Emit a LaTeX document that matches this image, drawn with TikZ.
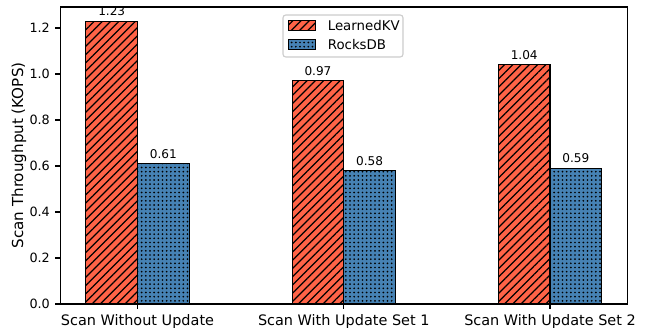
\documentclass[tikz,border=0pt]{standalone}
\usepackage{fontspec}
\setmainfont{DejaVu Sans}
\usepackage{tikz}
\usetikzlibrary{positioning,patterns.meta}
\definecolor{learnedkv}{RGB}{255,99,71}
\definecolor{rocksdb}{RGB}{70,130,180}
\tikzset{
    lkvbar/.style={
      draw=black, line width=0.8pt,
      fill=learnedkv,
      postaction={pattern={Lines[angle=45,distance=4.2pt,line width=0.9pt]}, pattern color=black}},
    rdbbar/.style={
      draw=black, line width=0.8pt,
      fill=rocksdb,
      postaction={pattern={Dots[radius=0.7pt,distance=3pt]}, pattern color=black}},
    axisline/.style={draw=black, line width=0.8pt},
    ticklabel/.style={inner sep=0pt, font=\fontsize{9.2}{10}\selectfont},
    grouplabel/.style={inner sep=0pt, font=\fontsize{10.4}{12}\selectfont},
    barvalue/.style={inner sep=0pt, anchor=base, font=\fontsize{8.7}{10}\selectfont},
    axistitle/.style={inner sep=0pt, rotate=90, font=\fontsize{10.9}{12}\selectfont},
    legendframe/.style={draw=black!20, fill=white, rounded corners=2pt, line width=0.8pt},
    legendkey/.style={minimum width=20pt, minimum height=6.8pt, inner sep=0pt},
    legendtext/.style={inner sep=0pt, font=\fontsize{9.6}{12}\selectfont},
}

\begin{document}
\begin{tikzpicture}[x=0.72pt,y=0.72pt]
    \useasboundingbox (0,0) rectangle (652,330);
    % data area: one unit = one group on x, one KOPS on y
    \begin{scope}[shift={(137.5,26)}, x=148.5pt, y=165.6pt]
        \draw[lkvbar] (-0.25,0) rectangle (0,1.23);
        \draw[rdbbar] (0,0) rectangle (0.25,0.61);
        \draw[lkvbar] (0.75,0) rectangle (1,0.97);
        \draw[rdbbar] (1,0) rectangle (1.25,0.58);
        \draw[lkvbar] (1.75,0) rectangle (2,1.04);
        \draw[rdbbar] (2,0) rectangle (2.25,0.59);

        \node[barvalue, yshift=4pt] (lkv1) at (-0.125,1.23) {1.23};
        \node[barvalue, yshift=4pt] (rdb1) at (0.125,0.61) {0.61};
        \node[barvalue, yshift=4pt] (lkv2) at (0.875,0.97) {0.97};
        \node[barvalue, yshift=4pt] (rdb2) at (1.125,0.58) {0.58};
        \node[barvalue, yshift=4pt] (lkv3) at (1.875,1.04) {1.04};
        \node[barvalue, yshift=4pt] (rdb3) at (2.125,0.59) {0.59};

        \draw[axisline] (-0.375,0) rectangle (2.375,1.2915);

        \draw[axisline] (0,0) -- ++(0,-3.5pt) node[grouplabel, below=3.5pt] (grp1) {Scan Without Update};
        \draw[axisline] (1,0) -- ++(0,-3.5pt) node[grouplabel, below=3.5pt] (grp2) {Scan With Update Set 1};
        \draw[axisline] (2,0) -- ++(0,-3.5pt) node[grouplabel, below=3.5pt] (grp3) {Scan With Update Set 2};

        \draw[axisline] (-0.375,0) -- ++(-3.5pt,0) node[ticklabel, left=3.5pt] (y00) {0.0};
        \draw[axisline] (-0.375,0.2) -- ++(-3.5pt,0) node[ticklabel, left=3.5pt] (y02) {0.2};
        \draw[axisline] (-0.375,0.4) -- ++(-3.5pt,0) node[ticklabel, left=3.5pt] (y04) {0.4};
        \draw[axisline] (-0.375,0.6) -- ++(-3.5pt,0) node[ticklabel, left=3.5pt] (y06) {0.6};
        \draw[axisline] (-0.375,0.8) -- ++(-3.5pt,0) node[ticklabel, left=3.5pt] (y08) {0.8};
        \draw[axisline] (-0.375,1.0) -- ++(-3.5pt,0) node[ticklabel, left=3.5pt] (y10) {1.0};
        \draw[axisline] (-0.375,1.2) -- ++(-3.5pt,0) node[ticklabel, left=3.5pt] (y12) {1.2};

        \node[axistitle] (ylab) at (-0.5745,0.6458) {Scan Throughput (KOPS)};
    \end{scope}

    % legend
    \draw[legendframe] (283,273) rectangle (403,315);
    \node[legendkey, lkvbar] (keylkv) at (302,304.5) {};
    \node[legendtext, right=8pt of keylkv] (txtlkv) {LearnedKV};
    \node[legendkey, rdbbar] (keyrdb) at (302,285.5) {};
    \node[legendtext, right=8pt of keyrdb] (txtrdb) {RocksDB};
\end{tikzpicture}
\end{document}
